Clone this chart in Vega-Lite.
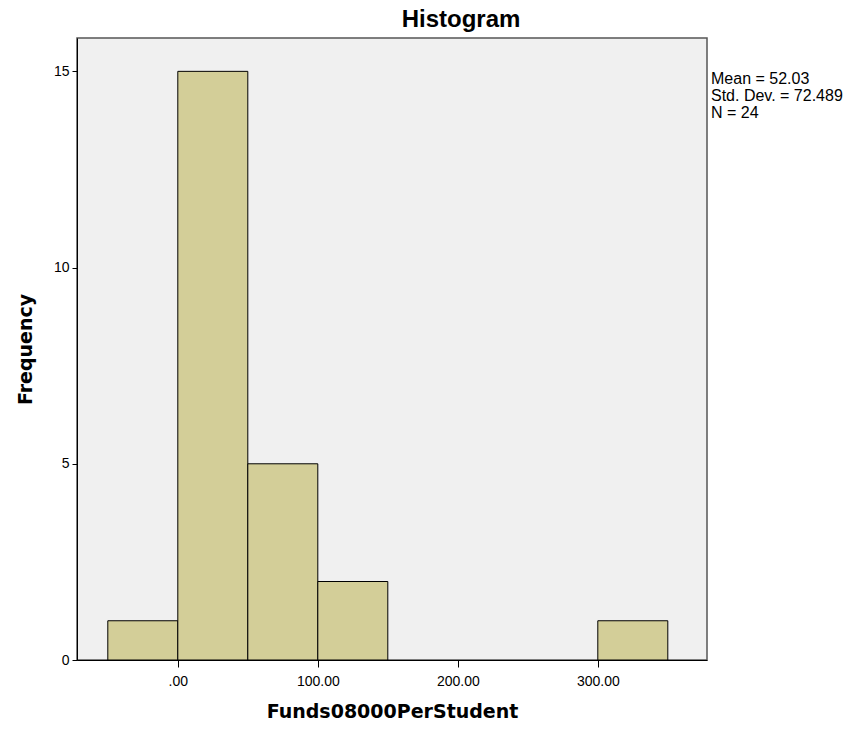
{
  "$schema": "https://vega.github.io/schema/vega-lite/v6.json",
  "autosize": {"type": "none"},
  "padding": {"left": 77, "top": 38, "right": 143, "bottom": 73},
  "width": 630,
  "height": 622,
  "background": "white",
  "config": {
    "font": "Liberation Sans",
    "view": {"fill": "#f0f0f0", "stroke": "#555555", "strokeWidth": 1.5}
  },
  "title": {
    "text": "Histogram",
    "font": "Liberation Sans",
    "fontSize": 24,
    "fontWeight": "bold",
    "color": "#000000",
    "anchor": "middle",
    "dx": 69,
    "offset": 6
  },
  "layer": [
    {
      "data": {
        "values": [
          {"bin_start": -50, "bin_end": 0, "count": 1},
          {"bin_start": 0, "bin_end": 50, "count": 15},
          {"bin_start": 50, "bin_end": 100, "count": 5},
          {"bin_start": 100, "bin_end": 150, "count": 2},
          {"bin_start": 300, "bin_end": 350, "count": 1}
        ]
      },
      "mark": {"type": "rect", "fill": "#d3ce98", "stroke": "#000000", "strokeWidth": 1},
      "encoding": {
        "x": {
          "field": "bin_start",
          "type": "quantitative",
          "scale": {"domain": [-72, 378], "nice": false, "zero": false},
          "axis": {
            "values": [0, 100, 200, 300],
            "labelExpr": "datum.value == 0 ? '.00' : format(datum.value, '.2f')",
            "title": "Funds08000PerStudent",
            "titleFont": "DejaVu Sans",
            "titleFontSize": 19,
            "titleFontWeight": "bold",
            "titleColor": "#000000",
            "titlePadding": 14,
            "labelFontSize": 14,
            "labelColor": "#000000",
            "labelPadding": 7,
            "tickSize": 7,
            "tickColor": "#000000",
            "domainColor": "#000000",
            "grid": false
          }
        },
        "x2": {"field": "bin_end"},
        "y": {
          "field": "count",
          "type": "quantitative",
          "scale": {"domain": [0, 15.85], "nice": false},
          "axis": {
            "values": [0, 5, 10, 15],
            "title": "Frequency",
            "titleFont": "DejaVu Sans",
            "titleFontSize": 19,
            "titleFontWeight": "bold",
            "titleColor": "#000000",
            "titlePadding": 18,
            "labelFontSize": 14,
            "labelColor": "#000000",
            "labelPadding": 3,
            "tickSize": 5,
            "tickColor": "#000000",
            "domainColor": "#000000",
            "grid": false
          }
        },
        "y2": {"datum": 0}
      }
    },
    {
      "data": {"values": [{"mean": 52.03, "sd": 72.489, "n": 24}]},
      "mark": {
        "type": "text",
        "text": ["Mean = 52.03", "Std. Dev. = 72.489", "N = 24"],
        "align": "left",
        "baseline": "top",
        "font": "Liberation Sans",
        "fontSize": 16,
        "fontWeight": "normal",
        "lineHeight": 17,
        "color": "#000000",
        "dx": 4,
        "clip": false
      },
      "encoding": {
        "x": {"datum": 378},
        "y": {"datum": 15.0}
      }
    }
  ]
}
